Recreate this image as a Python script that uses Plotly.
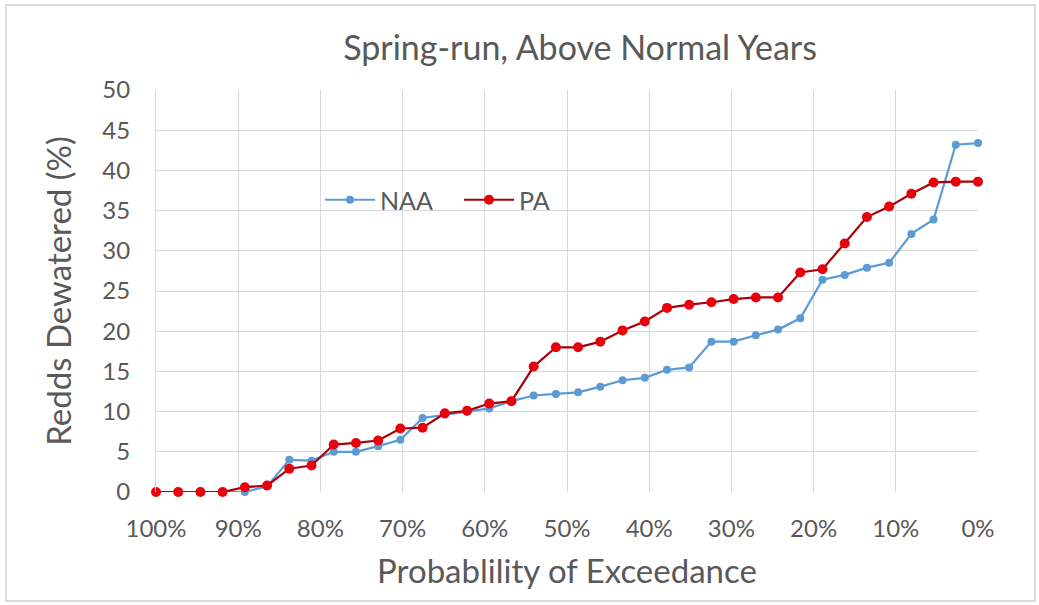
import plotly.graph_objects as go

# Exceedance ranks: 38 sorted years, plotted from 100% down to 0%
n_years = 38
exceedance = [100.0 * (1 - i / (n_years - 1)) for i in range(n_years)]

naa = [0, 0, 0, 0, 0, 0.7, 4.0, 3.9, 5.0, 5.0,
       5.7, 6.5, 9.2, 9.6, 10.0, 10.4, 11.3, 12.0, 12.2, 12.4,
       13.1, 13.9, 14.2, 15.2, 15.5, 18.7, 18.7, 19.5, 20.2, 21.6,
       26.4, 27.0, 27.9, 28.5, 32.1, 33.9, 43.2, 43.4]

pa = [0, 0, 0, 0, 0.6, 0.8, 2.9, 3.3, 5.9, 6.1,
      6.4, 7.9, 8.0, 9.8, 10.1, 11.0, 11.3, 15.6, 18.0, 18.0,
      18.7, 20.1, 21.2, 22.9, 23.3, 23.6, 24.0, 24.2, 24.2, 27.3,
      27.7, 30.9, 34.2, 35.5, 37.1, 38.5, 38.6, 38.6]

x_ticks = list(range(0, 101, 10))
x_tick_text = [f"{v}%" for v in x_ticks]
y_ticks = list(range(0, 51, 5))

FONT = "Lato, 'Open Sans', sans-serif"
GRAY = "#595959"
GRID = "#D9D9D9"

W, H = 1039, 605
L, R, T, B = 156, 61, 90, 113
pw, ph = W - L - R, H - T - B

fig = go.Figure()
fig.add_trace(go.Scatter(
    x=exceedance, y=naa, name="NAA", mode="lines+markers",
    line=dict(color="#5B9BD5", width=2.2),
    marker=dict(color="#5B9BD5", size=8),
    cliponaxis=False,
))
fig.add_trace(go.Scatter(
    x=exceedance, y=pa, name="PA", mode="lines+markers",
    line=dict(color="#A8000A", width=2.2),
    marker=dict(color="#E8000B", size=10),
    cliponaxis=False,
))

# light outline around the whole chart area
fig.add_shape(
    type="rect", xref="paper", yref="paper",
    x0=(6 - L) / pw, x1=(1035 - L) / pw,
    y0=(H - 601 - B) / ph, y1=(H - 5 - B) / ph,
    line=dict(color="#D0D0D0", width=1.5), layer="below",
)

fig.update_layout(
    width=W, height=H,
    margin=dict(l=L, r=R, t=T, b=B),
    paper_bgcolor="white", plot_bgcolor="white",
    font=dict(family=FONT, color=GRAY),
    title=dict(
        text="Spring-run, Above Normal Years",
        x=580 / W, xanchor="center",
        y=1 - 48 / H, yanchor="middle",
        font=dict(size=34, color=GRAY, family=FONT),
    ),
    legend=dict(
        orientation="h",
        x=(320 - L) / pw, xanchor="left",
        y=(H - B - 200) / ph, yanchor="middle",
        font=dict(size=25, color=GRAY),
        bgcolor="rgba(255,255,255,0)",
        itemwidth=50,
        entrywidth=74, entrywidthmode="pixels",
    ),
    showlegend=True,
)

fig.update_xaxes(
    range=[100, 0],
    tickvals=x_ticks, ticktext=x_tick_text,
    tickfont=dict(size=24, color=GRAY),
    showgrid=True, gridcolor=GRID, gridwidth=1,
    zeroline=False, showline=False,
    ticks="", ticklabelstandoff=20,
    title=dict(text="Probablility of Exceedance",
               font=dict(size=33, color=GRAY), standoff=18),
)
fig.update_yaxes(
    range=[0, 50],
    tickvals=y_ticks,
    tickfont=dict(size=24, color=GRAY),
    showgrid=True, gridcolor=GRID, gridwidth=1,
    zeroline=False, showline=True, linecolor=GRID, linewidth=1,
    ticks="", ticklabelstandoff=20,
    title=dict(text="Redds Dewatered (%)",
               font=dict(size=33, color=GRAY), standoff=20),
)

fig.write_html("out.html")
